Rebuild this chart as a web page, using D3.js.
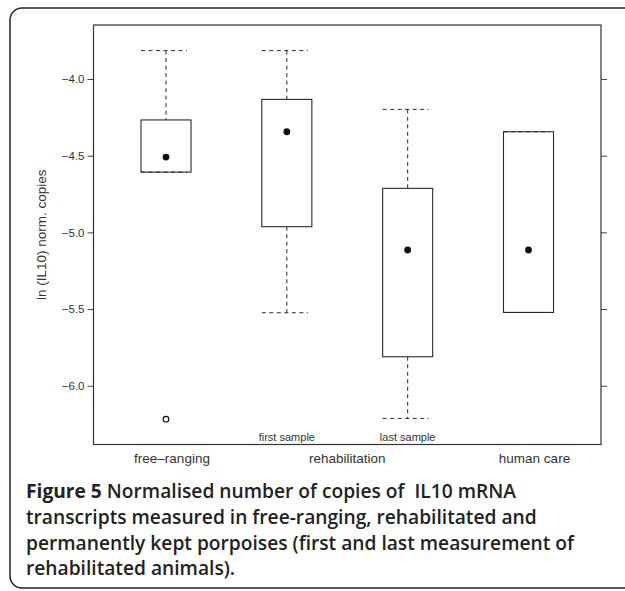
<!DOCTYPE html>
<html>
<head>
<meta charset="utf-8">
<script src="https://cdn.jsdelivr.net/npm/d3@7"></script>
<style>
  html, body { margin: 0; padding: 0; background: #fff; }
  svg { display: block; }
</style>
</head>
<body>
<script>
// ---- data ----
const boxPositions = [1, 2, 3, 4];
const boxLabels = ["free–ranging", "first sample", "last sample", "human care"];
const whiskerHigh = [-3.815, -3.815, -4.198, -4.344];
const upperHinge = [-4.267, -4.133, -4.713, -4.344];
const lowerHinge = [-4.607, -4.963, -5.811, -5.522];
const whiskerLow = [-4.607, -5.524, -6.213, -5.522];
const means = [-4.509, -4.344, -5.115, -5.115];
const outlierPos = [1];
const outlierVal = [-6.218];
const groupLabels = ["free–ranging", "rehabilitation", "human care"];
const groupPos = [1, 2.5, 4];
const sampleLabels = ["first sample", "last sample"];
const samplePos = [2, 3];
const yTicks = [-6.0, -5.5, -5.0, -4.5, -4.0];
const captionBold = "Figure 5";
const captionLines = [
  " Normalised number of copies of  IL10 mRNA",
  "transcripts measured in free-ranging, rehabilitated and",
  "permanently kept porpoises (first and last measurement of",
  "rehabilitated animals)."
];

const W = 625, H = 591;
const plot = { left: 93.5, right: 601, top: 25, bottom: 444.5 };

const svg = d3.select("body").append("svg").attr("width", W).attr("height", H);

// outer figure frame
svg.append("rect")
  .attr("x", 10).attr("y", 8).attr("width", 720).attr("height", 580)
  .attr("rx", 12).attr("ry", 12)
  .attr("fill", "none").attr("stroke", "#222").attr("stroke-width", 1.5);

const x = d3.scaleLinear().domain([0.4, 4.6]).range([plot.left, plot.right]);
const y = d3.scaleLinear().domain([-6.383, -3.648]).range([plot.bottom, plot.top]);
const boxW = 0.414;
const lineCol = "#2a2a2a";
const font = "'Liberation Sans', Arial, Helvetica, sans-serif";

// axes
const fmt = d3.format(".1f");
const yl = svg.append("g").attr("transform", `translate(${plot.left},0)`)
  .call(d3.axisLeft(y).tickValues(yTicks).tickFormat(fmt).tickSize(6).tickPadding(3));
yl.select(".domain").remove();
yl.selectAll("line").attr("stroke", "#444");
yl.selectAll("text").attr("font-family", font).attr("font-size", 11.5).attr("fill", "#333");

const yr = svg.append("g").attr("transform", `translate(${plot.right},0)`)
  .call(d3.axisRight(y).tickValues(yTicks).tickFormat("").tickSize(6));
yr.select(".domain").remove();
yr.selectAll("line").attr("stroke", "#444");

// plot frame
svg.append("rect")
  .attr("x", plot.left).attr("y", plot.top)
  .attr("width", plot.right - plot.left).attr("height", plot.bottom - plot.top)
  .attr("fill", "none").attr("stroke", "#333").attr("stroke-width", 1.2);

// boxes
const idx = d3.range(boxPositions.length);
const g = svg.append("g");
idx.forEach(i => {
  const cx = x(boxPositions[i]);
  const x0 = x(boxPositions[i] - boxW / 2), x1 = x(boxPositions[i] + boxW / 2);
  g.append("line").attr("x1", cx).attr("x2", cx)
    .attr("y1", y(whiskerHigh[i])).attr("y2", y(upperHinge[i]))
    .attr("stroke", lineCol).attr("stroke-width", 1).attr("stroke-dasharray", "4,3.5");
  g.append("line").attr("x1", cx).attr("x2", cx)
    .attr("y1", y(lowerHinge[i])).attr("y2", y(whiskerLow[i]))
    .attr("stroke", lineCol).attr("stroke-width", 1).attr("stroke-dasharray", "4,3.5");
  g.append("rect").attr("x", x0).attr("width", x1 - x0)
    .attr("y", y(upperHinge[i])).attr("height", y(lowerHinge[i]) - y(upperHinge[i]))
    .attr("fill", "none").attr("stroke", lineCol).attr("stroke-width", 1.1);
  [whiskerHigh[i], whiskerLow[i]].forEach(v => {
    g.append("line").attr("x1", x0).attr("x2", x1 - 4)
      .attr("y1", y(v)).attr("y2", y(v))
      .attr("stroke", lineCol).attr("stroke-width", 1).attr("stroke-dasharray", "4,3.5");
  });
  g.append("circle").attr("cx", cx).attr("cy", y(means[i])).attr("r", 3.4).attr("fill", "#111");
});
outlierPos.forEach((p, j) => {
  g.append("circle").attr("cx", x(p)).attr("cy", y(outlierVal[j])).attr("r", 2.8)
    .attr("fill", "none").attr("stroke", "#111").attr("stroke-width", 1.2);
});

// sample labels inside plot
svg.selectAll(".slab").data(sampleLabels).enter().append("text")
  .attr("x", (d, i) => x(samplePos[i])).attr("y", 440.5)
  .attr("text-anchor", "middle").attr("font-family", font).attr("font-size", 11)
  .attr("fill", "#333").text(d => d);

// group labels
const gOff = [6, 0, 6];
svg.selectAll(".glab").data(groupLabels).enter().append("text")
  .attr("x", (d, i) => x(groupPos[i]) + gOff[i]).attr("y", 463)
  .attr("text-anchor", "middle").attr("font-family", font).attr("font-size", 13.5)
  .attr("fill", "#333").text(d => d);

// y-axis title
svg.append("text")
  .attr("transform", `translate(46,${(plot.top + plot.bottom) / 2}) rotate(-90)`)
  .attr("text-anchor", "middle").attr("font-family", font).attr("font-size", 13.5)
  .attr("fill", "#333").text("ln (IL10) norm. copies");

// caption
const cap = svg.append("g").attr("font-family", "'Open Sans', 'Noto Sans', sans-serif")
  .attr("font-size", 19.2).attr("fill", "#222");
captionLines.forEach((line, i) => {
  const t = cap.append("text").attr("x", 26).attr("y", 498 + i * 25.8).attr("font-weight", 600)
    .style("white-space", "pre");
  if (i === 0) {
    t.append("tspan").attr("font-weight", 700).text(captionBold);
  }
  t.append("tspan").text(line);
});
</script>
</body>
</html>
